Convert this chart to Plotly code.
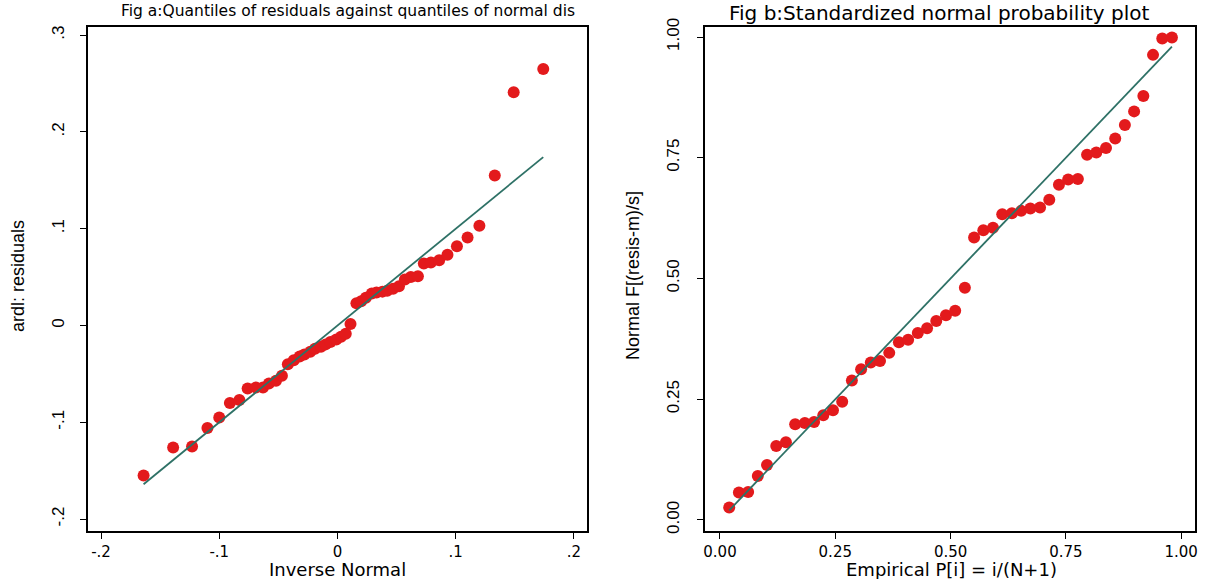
import plotly.graph_objects as go

# ---- Fig a: normal quantile plot of residuals ----
qa_inverse_normal = [-0.164, -0.139, -0.123, -0.110, -0.100, -0.091, -0.083, -0.076,
                     -0.069, -0.063, -0.058, -0.052, -0.047, -0.042, -0.037, -0.032,
                     -0.028, -0.023, -0.019, -0.014, -0.010, -0.006, -0.001, 0.003,
                     0.007, 0.011, 0.016, 0.020, 0.024, 0.029, 0.033, 0.038,
                     0.042, 0.047, 0.052, 0.057, 0.062, 0.068, 0.073, 0.079,
                     0.086, 0.093, 0.101, 0.110, 0.120, 0.133, 0.149, 0.174]
qa_residuals = [-0.155, -0.126, -0.125, -0.106, -0.095, -0.080, -0.077, -0.065,
                -0.064, -0.064, -0.060, -0.057, -0.052, -0.040, -0.036, -0.032,
                -0.030, -0.027, -0.024, -0.022, -0.0195, -0.017, -0.0145, -0.0117,
                -0.0085, 0.0015, 0.023, 0.025, 0.0286, 0.033, 0.034, 0.035,
                0.036, 0.038, 0.0406, 0.0475, 0.050, 0.051, 0.064, 0.065,
                0.0675, 0.073, 0.082, 0.091, 0.103, 0.155, 0.241, 0.265]

# ---- Fig b: standardized normal probability plot ----
pb_empirical = [0.020, 0.041, 0.061, 0.082, 0.102, 0.122, 0.143, 0.163,
                0.184, 0.204, 0.224, 0.245, 0.265, 0.286, 0.306, 0.327,
                0.347, 0.367, 0.388, 0.408, 0.429, 0.449, 0.469, 0.490,
                0.510, 0.531, 0.551, 0.571, 0.592, 0.612, 0.633, 0.653,
                0.673, 0.694, 0.714, 0.735, 0.755, 0.776, 0.796, 0.816,
                0.837, 0.857, 0.878, 0.898, 0.918, 0.939, 0.959, 0.980]
pb_normal_F = [0.026, 0.057, 0.058, 0.091, 0.114, 0.153, 0.161, 0.198,
               0.201, 0.203, 0.217, 0.227, 0.245, 0.289, 0.312, 0.326,
               0.329, 0.346, 0.368, 0.373, 0.387, 0.397, 0.412, 0.424,
               0.433, 0.481, 0.585, 0.600, 0.605, 0.633, 0.635, 0.640,
               0.645, 0.647, 0.663, 0.694, 0.705, 0.706, 0.756, 0.761,
               0.770, 0.790, 0.818, 0.846, 0.878, 0.963, 0.997, 0.999]

xa_ticks = [-0.2, -0.1, 0, 0.1, 0.2]
xa_ticktext = ["-.2", "-.1", "0", ".1", ".2"]
ya_ticks = [-0.2, -0.1, 0, 0.1, 0.2, 0.3]
ya_ticktext = ["-.2", "-.1", "0", ".1", ".2", ".3"]
b_ticks = [0, 0.25, 0.5, 0.75, 1.0]
b_ticktext = ["0.00", "0.25", "0.50", "0.75", "1.00"]

RED = "#E31A1C"
TEAL = "#2E7166"
W, H = 1207, 579

fig = go.Figure()

fig.add_trace(go.Scatter(x=qa_inverse_normal, y=qa_residuals, mode="markers",
                         marker=dict(color=RED, size=12, line=dict(width=0)),
                         xaxis="x", yaxis="y", hoverinfo="skip"))
line_a = [min(qa_inverse_normal), max(qa_inverse_normal)]
fig.add_trace(go.Scatter(x=line_a, y=line_a, mode="lines",
                         line=dict(color=TEAL, width=1.8),
                         xaxis="x", yaxis="y", hoverinfo="skip"))

fig.add_trace(go.Scatter(x=pb_empirical, y=pb_normal_F, mode="markers",
                         marker=dict(color=RED, size=12, line=dict(width=0)),
                         xaxis="x2", yaxis="y2", hoverinfo="skip"))
line_b = [pb_empirical[0], pb_empirical[-1]]
fig.add_trace(go.Scatter(x=line_b, y=line_b, mode="lines",
                         line=dict(color=TEAL, width=1.8),
                         xaxis="x2", yaxis="y2", hoverinfo="skip"))

SANS = "DejaVu Sans, Liberation Sans, Arial"
NARROW = "Liberation Sans Narrow, Arial Narrow, Liberation Sans, Arial"
xfont = dict(family=SANS, size=15, color="black")
yfont = dict(family=NARROW, size=17, color="black")

common = dict(showline=True, mirror=True, linecolor="black", linewidth=1.6,
              ticks="outside", ticklen=6, tickwidth=1.4, tickcolor="black",
              showgrid=False, zeroline=False, automargin=False)

ydom = [1 - 531 / H, 1 - 27 / H]

fig.update_layout(
    width=W, height=H,
    margin=dict(l=0, r=0, t=0, b=0),
    paper_bgcolor="white", plot_bgcolor="white",
    showlegend=False,
    xaxis=dict(domain=[88 / W, 587 / W], range=[-0.211, 0.211], anchor="y",
               tickvals=xa_ticks, ticktext=xa_ticktext, tickfont=xfont,
               ticklabelstandoff=0, **common),
    yaxis=dict(domain=ydom, range=[-0.2123, 0.3084], anchor="x",
               tickvals=ya_ticks, ticktext=ya_ticktext, tickfont=yfont,
               tickangle=-90, ticklabelstandoff=9, **common),
    xaxis2=dict(domain=[705 / W, 1195 / W], range=[-0.0325, 1.030], anchor="y2",
                tickvals=b_ticks, ticktext=b_ticktext, tickfont=xfont,
                ticklabelstandoff=0, **common),
    yaxis2=dict(domain=ydom, range=[-0.0228, 1.0207], anchor="x2",
                tickvals=b_ticks, ticktext=b_ticktext, tickfont=yfont,
                tickangle=-90, ticklabelstandoff=11, **common),
)

def ann(text, px, py, size, family, angle=0, xanchor="center"):
    fig.add_annotation(text=text, x=px / W, y=1 - py / H, xref="paper", yref="paper",
                       showarrow=False, textangle=angle, xanchor=xanchor, yanchor="middle",
                       font=dict(family=family, size=size, color="black"))

ann("Fig a:Quantiles of residuals against quantiles of normal dis", 119, 11, 15.5,
    SANS, xanchor="left")
ann("Fig b:Standardized normal probability plot", 939, 13, 20, SANS)
ann("Inverse Normal", 337, 569, 18, SANS)
ann("Empirical P[i] = i/(N+1)", 952, 569, 18, SANS)
ann("ardl: residuals", 18, 276, 18, NARROW, angle=-90)
ann("Normal F[(resis-m)/s]", 633, 276, 18, NARROW, angle=-90)

fig.write_html("out.html")
